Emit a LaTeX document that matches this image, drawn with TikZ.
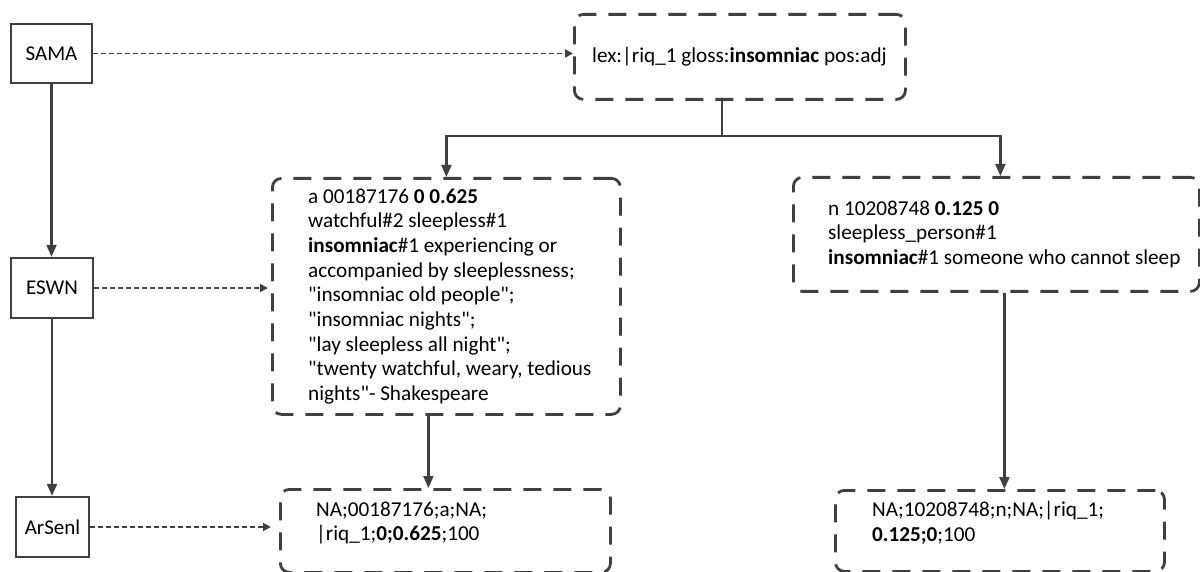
\documentclass[tikz,border=0pt]{standalone}
\usepackage{fontspec}
\setmainfont{Carlito}
\usepackage{tikz}
\usetikzlibrary{arrows.meta,positioning,calc}
\definecolor{linegray}{HTML}{404040}

\begin{document}
\begin{tikzpicture}[x=1pt, y=-1pt,
  src/.style={rectangle, draw=linegray, line width=2.4pt, inner sep=0pt,
    font=\fontsize{21}{24.7}\selectfont},
  card/.style={rectangle, rounded corners=9pt, draw=linegray, line width=2.8pt,
    dash pattern=on 18pt off 12pt, inner sep=0pt, anchor=north west},
  txt/.style={anchor=west, inner sep=0pt, align=left, font=\fontsize{21.2}{24.7}\selectfont},
  arr/.style={-{Triangle[length=12pt, width=10pt]}, line width=2.2pt, linegray},
  dotarr/.style={-{Triangle[length=8pt, width=8pt]}, line width=1.8pt, linegray,
    dash pattern=on 4.5pt off 3.5pt}
]
\useasboundingbox (0,0) rectangle (1200,572);

% resources
\node[src, minimum width=81, minimum height=59] (sama)   at (51.5,53.5) {SAMA};
\node[src, minimum width=82, minimum height=60] (eswn)   at (52,288)    {ESWN};
\node[src, minimum width=73, minimum height=60] (arsenl) at (52.5,527)  {ArSenl};

% entries
\node[card, minimum width=331, minimum height=85]  (lexbox) at (573,13)  {};
\node[card, minimum width=348, minimum height=236] (lbox)   at (271,177) {};
\node[card, minimum width=406, minimum height=114] (rbox)   at (792,176) {};
\node[card, minimum width=330, minimum height=83]  (blbox)  at (279,488) {};
\node[card, minimum width=329, minimum height=81]  (brbox)  at (834,489) {};

\node[txt] (lextxt) at ([xshift=19pt]lexbox.west)
  {lex:|riq\_1 gloss:\textbf{insomniac} pos:adj};
\node[txt] (ltxt) at ([xshift=37pt]lbox.west)
  {a 00187176 \textbf{0 0.625}\\
   watchful\#2 sleepless\#1\\
   \textbf{insomniac}\#1 experiencing or\\
   accompanied by sleeplessness;\\
   \textquotedbl insomniac old people\textquotedbl;\\
   \textquotedbl insomniac nights\textquotedbl;\\
   \textquotedbl lay sleepless all night\textquotedbl;\\
   \textquotedbl twenty watchful, weary, tedious\\
   nights\textquotedbl- Shakespeare};
\node[txt] (rtxt) at ([xshift=36pt]rbox.west)
  {n 10208748 \textbf{0.125 0}\\
   sleepless\_person\#1\\
   \textbf{insomniac}\#1 someone who cannot sleep};
\node[txt] (bltxt) at ([xshift=37pt, yshift=8pt]blbox.west)
  {NA;00187176;a;NA;\\
   |riq\_1;\textbf{0;0.625};100};
\node[txt] (brtxt) at ([xshift=38pt, yshift=8pt]brbox.west)
  {NA;10208748;n;NA;|riq\_1;\\
   \textbf{0.125;0};100};

% links
\draw[arr] (sama.south) -- (sama.south |- eswn.north);
\draw[arr] (eswn.south) -- (eswn.south |- arsenl.north);
\foreach \s/\t/\g in {sama/lexbox/0, eswn/lbox/3, arsenl/blbox/8} {
  \draw[dotarr, shorten >=\g pt] (\s.east) -- (\s.east -| \t.west);
}

\coordinate (split) at (722,136);
\draw[arr] (split |- lexbox.south) -- (split) -| (lbox.north);
\draw[arr] (split) -| ([xshift=4pt]rbox.north);
\draw[arr] ([xshift=-18pt]lbox.south) -- ([xshift=-18pt]lbox.south |- blbox.north);
\draw[arr] ([xshift=8pt]rbox.south) -- ([xshift=8pt]rbox.south |- brbox.north);
\end{tikzpicture}
\end{document}
